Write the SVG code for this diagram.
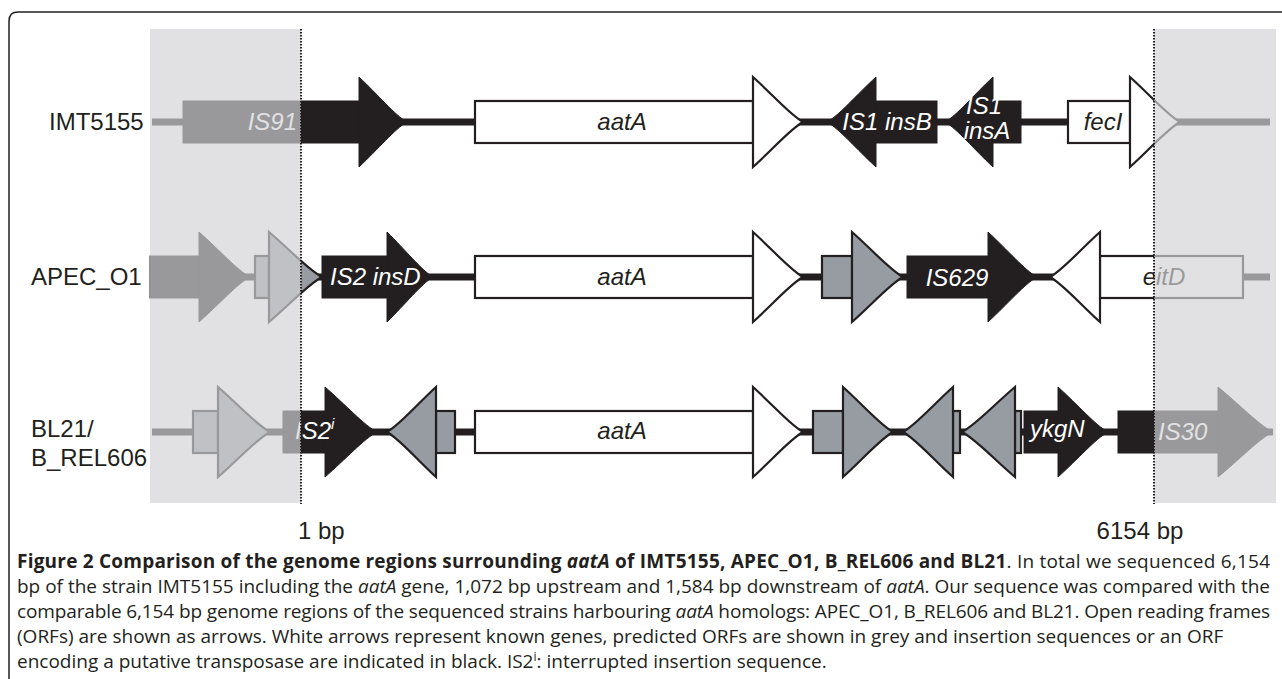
<svg xmlns="http://www.w3.org/2000/svg" width="1282" height="679" viewBox="0 0 1282 679">
<style>
.lbl{font-family:"Liberation Sans",Arial,sans-serif;font-size:24px;fill:#231f20}
.gt{font-family:"Liberation Sans",Arial,sans-serif;font-size:24px;font-style:italic}
.w{fill:#ffffff}
.k{fill:#231f20}
.blk{fill:#231f20;stroke:#231f20;stroke-width:1}
.wht{fill:#ffffff;stroke:#231f20;stroke-width:2.2}
.gry{fill:#979ca3;stroke:#231f20;stroke-width:2.2}
.bb{stroke:#231f20;stroke-width:7;fill:none}
.shade{fill:rgb(210,211,214);fill-opacity:0.675}
.dot{stroke:#231f20;stroke-width:2;stroke-dasharray:1.5 1.5;fill:none}
.cap{font-family:"Open Sans","Liberation Sans",sans-serif;font-size:19px;fill:#231f20}
</style>
<rect width="1282" height="679" fill="#ffffff"/>
<path d="M9,679 L9,21 Q9,12 18,12 L1282,12" fill="none" stroke="#231f20" stroke-width="1.5"/>

<g id="connectors">
<line class="bb" x1="152" y1="122" x2="1270" y2="122"/>
<line class="bb" x1="150" y1="277" x2="1270" y2="277"/>
<line class="bb" x1="152" y1="432" x2="1273" y2="432"/>
</g>

<g id="row1">
<g id="IS91"><rect class="blk" x="183" y="101" width="176" height="42"/><path class="blk" d="M359,77 C378.2,95 395,115.25 407,122 C395,128.75 378.2,149 359,167 Z"/><text class="gt w" x="297" y="130" text-anchor="end">IS91</text></g>
<g id="aatA1"><rect class="wht" x="475" y="101" width="278" height="42"/><path class="wht" d="M753,77 C773,95 790.5,115.25 803,122 C790.5,128.75 773,149 753,167 Z"/><text class="gt k" x="622" y="130" text-anchor="middle">aatA</text></g>
<g id="IS1insB"><rect class="blk" x="876" y="101" width="61" height="42"/><path class="blk" d="M876,77 C856.4,95 839.25,115.25 827,122 C839.25,128.75 856.4,149 876,167 Z"/><text class="gt w" x="887" y="130" text-anchor="middle">IS1 insB</text></g>
<g id="IS1insA"><rect class="blk" x="993" y="101" width="28" height="42"/><path class="blk" d="M993,77 C973.8,95 957,115.25 945,122 C957,128.75 973.8,149 993,167 Z"/><text class="gt w" x="984" y="114" text-anchor="middle" font-size="19">IS1</text><text class="gt w" x="987" y="139" text-anchor="middle" font-size="19">insA</text></g>
<g id="fecI"><rect class="wht" x="1068" y="101" width="62" height="42"/><path class="wht" d="M1130,77 C1150,95 1167.5,115.25 1180,122 C1167.5,128.75 1150,149 1130,167 Z"/><text class="gt k" x="1103" y="130" text-anchor="middle">fecI</text></g>
</g>

<g id="row2">
<g id="orfA"><rect class="blk" x="150" y="256" width="49" height="42"/><path class="blk" d="M199,232 C219.4,250 237.25,270.25 250,277 C237.25,283.75 219.4,304 199,322 Z"/></g>
<g id="orfB"><rect class="gry" x="255" y="256" width="14" height="42"/><path class="gry" d="M269,232 C290.2,250 308.75,270.25 322,277 C308.75,283.75 290.2,304 269,322 Z"/></g>
<g id="IS2insD"><rect class="blk" x="322" y="256" width="65" height="42"/><path class="blk" d="M387,232 C405.4,250 421.5,270.25 433,277 C421.5,283.75 405.4,304 387,322 Z"/><text class="gt w" x="330" y="285">IS2 insD</text></g>
<g id="aatA2"><rect class="wht" x="475" y="256" width="278" height="42"/><path class="wht" d="M753,232 C773,250 790.5,270.25 803,277 C790.5,283.75 773,304 753,322 Z"/><text class="gt k" x="622" y="285" text-anchor="middle">aatA</text></g>
<g id="orfC"><rect class="gry" x="822" y="256" width="30" height="42"/><path class="gry" d="M852,232 C872.4,250 890.25,270.25 903,277 C890.25,283.75 872.4,304 852,322 Z"/></g>
<g id="IS629"><rect class="blk" x="907" y="256" width="81" height="42"/><path class="blk" d="M988,232 C1007.6,250 1024.75,270.25 1037,277 C1024.75,283.75 1007.6,304 988,322 Z"/><text class="gt w" x="957" y="286" text-anchor="middle">IS629</text></g>
<g id="eitD"><rect class="wht" x="1100" y="256" width="143" height="42"/><path class="wht" d="M1100,232 C1080,250 1062.5,270.25 1050,277 C1062.5,283.75 1080,304 1100,322 Z"/><text class="gt k" x="1164" y="285" text-anchor="middle">eitD</text></g>
</g>

<g id="row3">
<g id="orfD"><rect class="gry" x="193" y="411" width="25" height="42"/><path class="gry" d="M218,387 C238.8,405 257,425.25 270,432 C257,438.75 238.8,459 218,477 Z"/></g>
<g id="IS2i"><rect class="blk" x="283" y="411" width="42" height="42"/><path class="blk" d="M325,387 C345.8,405 364,425.25 377,432 C364,438.75 345.8,459 325,477 Z"/><text class="gt w" x="295" y="439">IS2<tspan font-size="15" dy="-10">i</tspan></text></g>
<g id="orfE"><rect class="gry" x="436" y="411" width="19" height="42"/><path class="gry" d="M436,387 C416.4,405 399.25,425.25 387,432 C399.25,438.75 416.4,459 436,477 Z"/></g>
<g id="aatA3"><rect class="wht" x="475" y="411" width="278" height="42"/><path class="wht" d="M753,387 C773,405 790.5,425.25 803,432 C790.5,438.75 773,459 753,477 Z"/><text class="gt k" x="622" y="439" text-anchor="middle">aatA</text></g>
<g id="orfF"><rect class="gry" x="813" y="411" width="30" height="42"/><path class="gry" d="M843,387 C863,405 880.5,425.25 893,432 C880.5,438.75 863,459 843,477 Z"/></g>
<g id="orfG"><rect class="gry" x="953" y="411" width="7" height="42"/><path class="gry" d="M953,387 C933,405 915.5,425.25 903,432 C915.5,438.75 933,459 953,477 Z"/></g>
<g id="orfH"><rect class="gry" x="1015" y="411" width="6" height="42"/><path class="gry" d="M1015,387 C993.8,405 975.25,425.25 962,432 C975.25,438.75 993.8,459 1015,477 Z"/></g>
<g id="ykgN"><rect class="blk" x="1024" y="411" width="34" height="42"/><path class="blk" d="M1058,387 C1078,405 1095.5,425.25 1108,432 C1095.5,438.75 1078,459 1058,477 Z"/><text class="gt w" x="1030" y="437">ykgN</text></g>
<g id="IS30"><rect class="blk" x="1118" y="411" width="100" height="42"/><path class="blk" d="M1218,387 C1240,405 1259.25,425.25 1273,432 C1259.25,438.75 1240,459 1218,477 Z"/><text class="gt w" x="1158" y="440">IS30</text></g>
</g>

<g id="shading">
<rect class="shade" x="150" y="29" width="151" height="474"/>
<rect class="shade" x="1154" y="29" width="122" height="474"/>
</g>
<g id="markers">
<line class="dot" x1="301" y1="29" x2="301" y2="504"/>
<line class="dot" x1="1154" y1="29" x2="1154" y2="504"/>
<text class="lbl" x="298" y="539">1 bp</text>
<text class="lbl" x="1140" y="539" text-anchor="middle">6154 bp</text>
</g>
<g id="labels">
<text class="lbl" x="49" y="130">IMT5155</text>
<text class="lbl" x="31" y="285">APEC_O1</text>
<text class="lbl" x="31" y="437">BL21/</text>
<text class="lbl" x="31" y="466">B_REL606</text>
</g>

<g id="caption" class="cap">
<text x="17" y="568" textLength="1253" lengthAdjust="spacing"><tspan font-weight="bold">Figure 2 Comparison of the genome regions surrounding <tspan font-style="italic">aatA</tspan> of IMT5155, APEC_O1, B_REL606 and BL21</tspan>. In total we sequenced 6,154</text>
<text x="17" y="593" textLength="1253" lengthAdjust="spacing">bp of the strain IMT5155 including the <tspan font-style="italic">aatA</tspan> gene, 1,072 bp upstream and 1,584 bp downstream of <tspan font-style="italic">aatA</tspan>. Our sequence was compared with the</text>
<text x="17" y="618" textLength="1253" lengthAdjust="spacing">comparable 6,154 bp genome regions of the sequenced strains harbouring <tspan font-style="italic">aatA</tspan> homologs: APEC_O1, B_REL606 and BL21. Open reading frames</text>
<text x="17" y="643">(ORFs) are shown as arrows. White arrows represent known genes, predicted ORFs are shown in grey and insertion sequences or an ORF</text>
<text x="17" y="668">encoding a putative transposase are indicated in black. IS2<tspan font-size="12" dy="-7">i</tspan><tspan dy="7">: interrupted insertion sequence.</tspan></text>
</g>
</svg>
